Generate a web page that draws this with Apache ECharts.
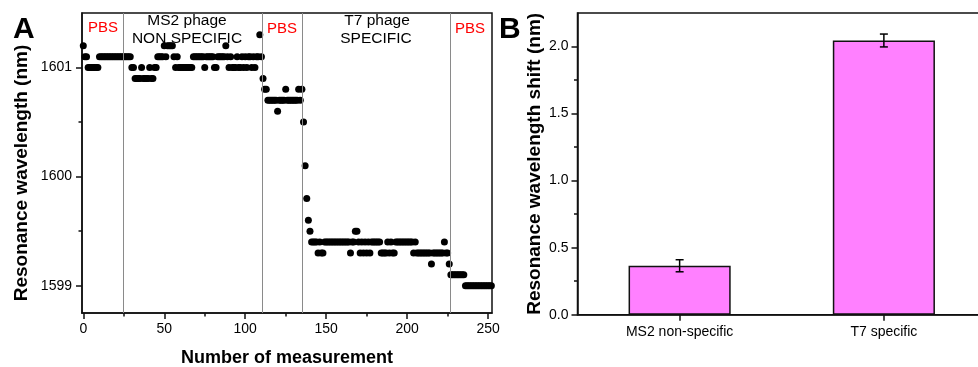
<!DOCTYPE html>
<html>
<head>
<meta charset="utf-8">
<script src="https://cdn.jsdelivr.net/npm/echarts@6/dist/echarts.min.js"></script>
<style>
  html, body { margin: 0; padding: 0; background: #fff; }
  #chart { width: 978px; height: 367px; }
</style>
</head>
<body>
<div id="chart"></div>
<script>
// Resonance wavelength (nm) of each successive measurement, grouped by the fluid on the sensor
const pbsBefore = [
  1601.2, 1601.1, 1601.1, 1601.0, 1601.0, 1601.0, 1601.0, 1601.0, 1601.0, 1601.0,
  1601.1, 1601.1, 1601.1, 1601.1, 1601.1, 1601.1, 1601.1, 1601.1, 1601.1, 1601.1,
  1601.1, 1601.1, 1601.1, 1601.1, 1601.1
];
const ms2Phage = [
  1601.1, 1601.1, 1601.1, 1601.1, 1601.1, 1601.0, 1601.0, 1600.9, 1600.9, 1600.9,
  1600.9, 1601.0, 1600.9, 1600.9, 1600.9, 1600.9, 1601.0, 1600.9, 1600.9, 1601.0,
  1601.0, 1601.1, 1601.1, 1601.1, 1601.1, 1601.2, 1601.1, 1601.2, 1601.2, 1601.2,
  1601.2, 1601.1, 1601.0, 1601.1, 1601.0, 1601.0, 1601.0, 1601.0, 1601.0, 1601.0,
  1601.0, 1601.0, 1601.0, 1601.1, 1601.1, 1601.1, 1601.1, 1601.1, 1601.1, 1601.1,
  1601.0, 1601.1, 1601.1, 1601.1, 1601.1, 1601.1, 1601.0, 1601.0, 1601.1, 1601.1,
  1601.1, 1601.1, 1601.1, 1601.2, 1601.1, 1601.0, 1601.1, 1601.0, 1601.0, 1601.0,
  1601.1, 1601.0, 1601.0, 1601.1, 1601.0, 1601.1, 1601.0, 1601.1, 1601.1, 1601.0,
  1601.1, 1601.0, 1601.1, 1601.1, 1601.3, 1601.1
];
const pbsAfterMs2 = [
  1600.9, 1600.8, 1600.8, 1600.7, 1600.7, 1600.7, 1600.7, 1600.7, 1600.7, 1600.6,
  1600.7, 1600.7, 1600.7, 1600.7, 1600.8, 1600.7, 1600.7, 1600.7, 1600.7, 1600.7,
  1600.7, 1600.7, 1600.8, 1600.7, 1600.8
];
const t7Phage = [
  1600.5, 1600.1, 1599.8, 1599.6, 1599.5, 1599.4, 1599.4, 1599.4, 1599.4, 1599.3,
  1599.4, 1599.3, 1599.3, 1599.4, 1599.4, 1599.4, 1599.4, 1599.4, 1599.4, 1599.4,
  1599.4, 1599.4, 1599.4, 1599.4, 1599.4, 1599.4, 1599.4, 1599.4, 1599.4, 1599.3,
  1599.4, 1599.4, 1599.5, 1599.5, 1599.4, 1599.3, 1599.4, 1599.3, 1599.4, 1599.3,
  1599.4, 1599.3, 1599.4, 1599.4, 1599.4, 1599.4, 1599.4, 1599.4, 1599.3, 1599.3,
  1599.3, 1599.3, 1599.4, 1599.3, 1599.4, 1599.3, 1599.3, 1599.4, 1599.4, 1599.4,
  1599.4, 1599.4, 1599.4, 1599.4, 1599.4, 1599.4, 1599.4, 1599.4, 1599.3, 1599.4,
  1599.3, 1599.3, 1599.3, 1599.3, 1599.3, 1599.3, 1599.3, 1599.3, 1599.3, 1599.2,
  1599.3, 1599.3, 1599.3, 1599.3, 1599.3, 1599.3, 1599.3, 1599.4, 1599.3, 1599.3,
  1599.2
];
const pbsFinal = [
  1599.1, 1599.1, 1599.1, 1599.1, 1599.1, 1599.1, 1599.1, 1599.1, 1599.1,
  1599.0, 1599.0, 1599.0, 1599.0, 1599.0, 1599.0, 1599.0, 1599.0, 1599.0,
  1599.0, 1599.0, 1599.0, 1599.0, 1599.0, 1599.0, 1599.0, 1599.0
];
// Measurement numbers at which the fluid was switched
const switchPoints = [24.5, 110.5, 135.3, 226.5];
const xTicksA = [0, 50, 100, 150, 200, 250];
const xMinorTicksA = [25, 75, 125, 175, 225];
const yTicksA = [1599, 1600, 1601];
const yMinorTicksA = [1599.5, 1600.5];

// Wavelength shift caused by each phage (mean and error)
const shiftCategories = ['MS2 non-specific', 'T7 specific'];
const shiftMeans = [0.365, 2.045];
const shiftErrors = [0.045, 0.048];
const yTicksB = [0, 0.5, 1.0, 1.5, 2.0];
const yMinorTicksB = [0.25, 0.75, 1.25, 1.75];

const readings = [].concat(pbsBefore, ms2Phage, pbsAfterMs2, t7Phage, pbsFinal)
  .map((v, i) => [i, v]);
const errorData = shiftMeans.map((m, i) => [i, m - shiftErrors[i], m + shiftErrors[i]]);

const FONT = '"Liberation Sans", Arial, sans-serif';
const black = '#111';
const axisLine = { show: true, onZero: false, lineStyle: { color: black, width: 1.5 } };
const tickLabel = { color: '#000', fontSize: 14, fontFamily: FONT };
const axisName = { color: '#000', fontSize: 19, fontWeight: 'bold', fontFamily: FONT };

const chart = echarts.init(document.getElementById('chart'), null, { renderer: 'canvas' });

chart.setOption({
  animation: false,
  backgroundColor: '#fff',
  textStyle: { fontFamily: FONT },
  grid: [
    { left: 82, top: 13, width: 410, height: 300, outerBoundsMode: 'none', containLabel: false,
      show: true, borderColor: black, borderWidth: 1.5, backgroundColor: 'transparent' },
    { left: 577.5, top: 13, width: 408.5, height: 301.7, outerBoundsMode: 'none', containLabel: false,
      show: true, borderColor: black, borderWidth: 1.5, backgroundColor: 'transparent' }
  ],
  xAxis: [
    {
      gridIndex: 0, type: 'value', min: -0.8, max: 252.4,
      axisLine,
      axisTick: { show: true, customValues: xTicksA, length: 6, lineStyle: { color: black, width: 1.5 } },
      axisLabel: Object.assign({ customValues: xTicksA, margin: 9 }, tickLabel),
      splitLine: { show: false },
      name: 'Number of measurement', nameLocation: 'middle', nameGap: 36,
      nameTextStyle: Object.assign({}, axisName, { fontSize: 18 })
    },
    {
      gridIndex: 0, type: 'value', min: -0.8, max: 252.4, position: 'bottom',
      axisLine: { show: false, onZero: false },
      axisTick: { show: true, customValues: xMinorTicksA, length: 3.5, lineStyle: { color: black, width: 1.5 } },
      axisLabel: { show: false }, splitLine: { show: false }
    },
    {
      gridIndex: 1, type: 'category', data: shiftCategories,
      axisLine,
      axisTick: { show: true, alignWithLabel: true, length: 6, lineStyle: { color: black, width: 1.5 } },
      axisLabel: Object.assign({ margin: 10, interval: 0 }, tickLabel),
      splitLine: { show: false }
    }
  ],
  yAxis: [
    {
      gridIndex: 0, type: 'value', min: 1598.75, max: 1601.5,
      axisLine,
      axisTick: { show: true, customValues: yTicksA, length: 6, lineStyle: { color: black, width: 1.5 } },
      axisLabel: Object.assign({ customValues: yTicksA, margin: 10, formatter: v => String(v) }, tickLabel),
      splitLine: { show: false }
    },
    {
      gridIndex: 0, type: 'value', min: 1598.75, max: 1601.5, position: 'left',
      axisLine: { show: false, onZero: false },
      axisTick: { show: true, customValues: yMinorTicksA, length: 3.5, lineStyle: { color: black, width: 1.5 } },
      axisLabel: { show: false }, splitLine: { show: false }
    },
    {
      gridIndex: 1, type: 'value', min: 0, max: 2.25,
      axisLine,
      axisTick: { show: true, customValues: yTicksB, length: 6, lineStyle: { color: black, width: 1.5 } },
      axisLabel: Object.assign({ customValues: yTicksB, margin: 9, formatter: v => v.toFixed(1) }, tickLabel),
      splitLine: { show: false },
      name: 'Resonance wavelength shift (nm)', nameLocation: 'middle', nameGap: 33,
      nameTextStyle: axisName
    },
    {
      gridIndex: 1, type: 'value', min: 0, max: 2.25, position: 'left',
      axisLine: { show: false, onZero: false },
      axisTick: { show: true, customValues: yMinorTicksB, length: 3.5, lineStyle: { color: black, width: 1.5 } },
      axisLabel: { show: false }, splitLine: { show: false }
    }
  ],
  series: [
    {
      type: 'scatter', xAxisIndex: 0, yAxisIndex: 0, clip: true,
      data: readings, symbol: 'circle', symbolSize: 7,
      itemStyle: { color: '#000', opacity: 1 },
      markLine: {
        silent: true, symbol: 'none', animation: false,
        label: { show: false },
        lineStyle: { color: '#8a8a8a', width: 1, type: 'solid' },
        emphasis: { disabled: true },
        data: switchPoints.map(x => ({ xAxis: x }))
      }
    },
    {
      type: 'bar', xAxisIndex: 2, yAxisIndex: 2,
      data: shiftMeans, barWidth: '50%',
      itemStyle: { color: '#ff80ff', borderColor: black, borderWidth: 1.5 }
    },
    {
      type: 'custom', xAxisIndex: 2, yAxisIndex: 2,
      data: errorData, encode: { x: 0, y: [1, 2] }, z: 5,
      renderItem: function (params, api) {
        const hi = api.coord([api.value(0), api.value(2)]);
        const lo = api.coord([api.value(0), api.value(1)]);
        const cap = 4;
        const style = { stroke: '#000', lineWidth: 1.5 };
        return {
          type: 'group',
          children: [
            { type: 'line', shape: { x1: hi[0], y1: hi[1], x2: lo[0], y2: lo[1] }, style },
            { type: 'line', shape: { x1: hi[0] - cap, y1: hi[1], x2: hi[0] + cap, y2: hi[1] }, style },
            { type: 'line', shape: { x1: lo[0] - cap, y1: lo[1], x2: lo[0] + cap, y2: lo[1] }, style }
          ]
        };
      }
    }
  ],
  graphic: [
    { type: 'text', x: 13, y: 30, style: { text: 'A', fill: '#000', font: 'bold 30px ' + FONT, verticalAlign: 'middle' } },
    { type: 'text', x: 499, y: 30, style: { text: 'B', fill: '#000', font: 'bold 30px ' + FONT, verticalAlign: 'middle' } },
    { type: 'text', x: 22, y: 173, rotation: Math.PI / 2,
      style: { text: 'Resonance wavelength (nm)', fill: '#000', font: 'bold 19px ' + FONT, align: 'center', verticalAlign: 'middle' } },
    { type: 'text', x: 103, y: 28, style: { text: 'PBS', fill: '#ff0000', font: '15px ' + FONT, align: 'center', verticalAlign: 'middle' } },
    { type: 'text', x: 187, y: 21, style: { text: 'MS2 phage', fill: '#000', font: '15.5px ' + FONT, align: 'center', verticalAlign: 'middle' } },
    { type: 'text', x: 187, y: 39, style: { text: 'NON SPECIFIC', fill: '#000', font: '15.5px ' + FONT, align: 'center', verticalAlign: 'middle' } },
    { type: 'text', x: 282, y: 29, style: { text: 'PBS', fill: '#ff0000', font: '15px ' + FONT, align: 'center', verticalAlign: 'middle' } },
    { type: 'text', x: 377, y: 21, style: { text: 'T7 phage', fill: '#000', font: '15.5px ' + FONT, align: 'center', verticalAlign: 'middle' } },
    { type: 'text', x: 376, y: 39, style: { text: 'SPECIFIC', fill: '#000', font: '15.5px ' + FONT, align: 'center', verticalAlign: 'middle' } },
    { type: 'text', x: 470, y: 29, style: { text: 'PBS', fill: '#ff0000', font: '15px ' + FONT, align: 'center', verticalAlign: 'middle' } }
  ]
});
</script>
</body>
</html>
